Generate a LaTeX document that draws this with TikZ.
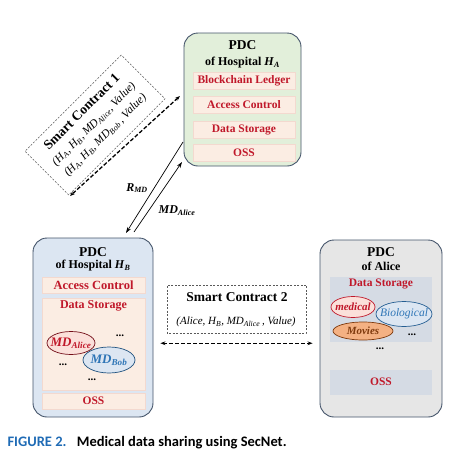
\documentclass[tikz,border=0pt]{standalone}
\usepackage{fontspec}
\setmainfont{Liberation Serif}
\newfontfamily\captionfont{Carlito}
\usetikzlibrary{arrows.meta,shapes.geometric,shapes.misc,positioning}

\definecolor{greenfill}{HTML}{E2EFDA}
\definecolor{bluefill}{HTML}{DCE6F2}
\definecolor{grayfill}{HTML}{E6E6E6}
\definecolor{peachfill}{HTML}{FBEDE3}
\definecolor{peachedge}{HTML}{F3D9CF}
\definecolor{slatefill}{HTML}{D5DBE4}
\definecolor{boxedge}{HTML}{44546A}
\definecolor{darkred}{HTML}{C0182A}
\definecolor{midblue}{HTML}{2E75B6}
\definecolor{brownish}{HTML}{7F3A0E}
\definecolor{orangefill}{HTML}{F4B183}
\definecolor{pinkfill}{HTML}{FBE0DA}
\definecolor{figblue}{HTML}{1F6BB5}

\newcommand{\subit}[2]{\textit{#1}\textsubscript{\textit{#2}}}

\tikzset{
  pdcbox/.style={draw=boxedge, line width=0.9pt, rounded corners=14pt, inner sep=0pt},
  pdctitle/.style={font=\bfseries\fontsize{13.5}{14}\selectfont},
  pdcsub/.style={font=\bfseries\fontsize{12}{13}\selectfont},
  rowbox/.style={fill=peachfill, draw=peachedge, line width=0.4pt, minimum width=102pt,
    minimum height=17pt, inner sep=0pt, text=darkred, font=\bfseries\fontsize{11.5}{12}\selectfont},
  rowtext/.style={text=darkred, font=\bfseries\fontsize{11.5}{12}\selectfont},
  dotstext/.style={font=\bfseries\fontsize{11}{12}\selectfont},
  oval/.style={ellipse, inner sep=0pt, line width=0.7pt},
  ovaltext/.style={font=\bfseries\itshape\fontsize{11}{12}\selectfont},
  contract/.style={draw=gray!70!black, line width=0.5pt, dash pattern=on 2pt off 1.5pt,
    chamfered rectangle, chamfered rectangle corners=north east, chamfered rectangle xsep=5pt,
    inner sep=0pt, align=center},
  contracttitle/.style={font=\bfseries\fontsize{13.5}{14}\selectfont},
  contractargs/.style={font=\itshape\fontsize{11.5}{12}\selectfont},
  dasharrow/.style={line width=1.3pt, dash pattern=on 4pt off 2pt, {Stealth[length=5pt]}-{Stealth[length=5pt]}},
  msgarrow/.style={line width=0.7pt, -{Stealth[length=6pt,width=4pt]}},
  msglabel/.style={font=\bfseries\itshape\fontsize{12}{13}\selectfont}
}

\begin{document}
\begin{tikzpicture}[x=1pt, y=-1pt]
    \useasboundingbox (0,0) rectangle (459,469);

    % --- PDC of Hospital H_A ---
    \node[pdcbox, fill=greenfill, minimum width=117pt, minimum height=133pt] (ha) at (242.5,99.5) {};
    \node[pdctitle] (hatitle) at (242.5,45) {PDC};
    \node[pdcsub] (hasub) at (242.5,63) {of Hospital \subit{H}{A}};
    \node[rowbox] (haledger) at (244,81) {Blockchain Ledger};
    \node[rowbox] (haaccess) at (244,105) {Access Control};
    \node[rowbox] (hastorage) at (244,130) {Data Storage};
    \node[rowbox] (haoss) at (244,153) {OSS};

    % --- PDC of Hospital H_B ---
    \node[pdcbox, fill=bluefill, minimum width=120pt, minimum height=179pt] (hb) at (93,327.5) {};
    \node[pdctitle] (hbtitle) at (93,252) {PDC};
    \node[pdcsub] (hbsub) at (93,266) {of Hospital \subit{H}{B}};
    \node[rowbox, minimum width=103pt, minimum height=16pt, font=\bfseries\fontsize{12.5}{13}\selectfont] (hbaccess) at (93.5,285.5) {Access Control};
    \node[rowbox, minimum width=103pt, minimum height=92pt] (hbstorage) at (93.5,344) {};
    \node[rowtext, font=\bfseries\fontsize{12}{13}\selectfont] (hbstoragetext) at (93.5,306) {Data Storage};
    \node[oval, fill=pinkfill, draw=darkred!60!black, minimum width=48pt, minimum height=23pt,
      label={[ovaltext, text=darkred, font=\bfseries\itshape\fontsize{13}{14}\selectfont]center:MD\textsubscript{Alice}}] (mdalice) at (71,343) {};
    \node[oval, fill=bluefill, draw=midblue!70!black, minimum width=52pt, minimum height=26pt,
      label={[ovaltext, text=midblue, font=\bfseries\itshape\fontsize{13}{14}\selectfont]center:MD\textsubscript{Bob}}] (mdbob) at (109,360) {};
    \node[dotstext] (hbdotsa) at (120,336) {...};
    \node[dotstext] (hbdotsb) at (63,365) {...};
    \node[dotstext] (hbdotsc) at (92,380) {...};
    \node[rowbox, minimum width=103pt, minimum height=16pt] (hboss) at (93.5,401) {OSS};

    % --- PDC of Alice ---
    \node[pdcbox, fill=grayfill, minimum width=122pt, minimum height=177pt] (alice) at (381,328.5) {};
    \node[pdctitle] (alicetitle) at (381,252) {PDC};
    \node[pdcsub] (alicesub) at (381,266) {of Alice};
    \node[fill=slatefill, minimum width=102pt, minimum height=65pt, inner sep=0pt] (alicestorage) at (381,309.5) {};
    \node[rowtext] (alicestoragetext) at (381,284) {Data Storage};
    \node[oval, fill=pinkfill, draw=darkred, minimum width=44pt, minimum height=21pt,
      label={[ovaltext, text=darkred]center:medical}] (medical) at (353,307) {};
    \node[oval, fill=bluefill, draw=midblue!80!black, minimum width=56pt, minimum height=25pt,
      label={[ovaltext, text=midblue, font=\itshape\fontsize{11.5}{12}\selectfont]center:Biological}] (biological) at (404,314) {};
    \node[oval, fill=orangefill, draw=brownish, minimum width=60pt, minimum height=18pt,
      label={[ovaltext, text=brownish]center:Movies}] (movies) at (363,331) {};
    \node[dotstext] (alicedotsa) at (412,335) {...};
    \node[dotstext] (alicedotsb) at (380,349) {...};
    \node[fill=slatefill, minimum width=102pt, minimum height=25pt, inner sep=0pt, rowtext] (aliceoss) at (381,382) {OSS};

    % --- Smart contracts ---
    \node[contract, rotate=45, minimum width=136pt, minimum height=62pt] (scone) at (95,125) {};
    \begin{scope}[shift={(scone.center)}, rotate=45]
        \node[contracttitle, transform shape] (sconetitle) at (0,-19) {Smart Contract 1};
        \node[contractargs, transform shape] (sconealice) at (0,-1) {(\subit{H}{A}, \subit{H}{B}, \subit{MD}{Alice}, \textit{Value})};
        \node[contractargs, transform shape] (sconebob) at (0,15) {(\subit{H}{A}, \subit{H}{B}, \subit{MD}{Bob}\,, \textit{Value})};
    \end{scope}
    \node[contract, minimum width=139pt, minimum height=48pt] (sctwo) at (236.5,309) {};
    \node[contracttitle] (sctwotitle) at (237,297) {Smart Contract 2};
    \node[contractargs, font=\itshape\fontsize{11}{12}\selectfont] (sctwoargs) at (236,322) {(Alice, \subit{H}{B}, \subit{MD}{Alice}\,, Value)};

    % Connectors
    \coordinate (sconetop) at (180,96);
    \coordinate (sconebot) at (70,196);
    \draw[dasharrow] (sconetop) -- (sconebot);
    \draw[dasharrow, shorten <=7pt, shorten >=7pt] ([yshift=-10pt]sctwo.south -| hb.east) -- ([yshift=-10pt]sctwo.south -| alice.west);

    \coordinate (rmdfrom) at (183,142);
    \coordinate (rmdto) at (126,233);
    \coordinate (mdfrom) at (134,232);
    \coordinate (mdto) at (182,162);
    \draw[msgarrow] (rmdfrom) -- (rmdto);
    \draw[msgarrow] (mdfrom) -- (mdto);
    \node[msglabel] (rmdlabel) at (137,188) {R\textsubscript{MD}};
    \node[msglabel] (mdlabel) at (177,211) {MD\textsubscript{Alice}};

    % Caption
    \node[anchor=west, font=\captionfont\bfseries\fontsize{14.5}{15}\selectfont] (caption) at (4,443)
      {\textcolor{figblue}{FIGURE 2.}\hspace{6pt} Medical data sharing using SecNet.};
\end{tikzpicture}
\end{document}
